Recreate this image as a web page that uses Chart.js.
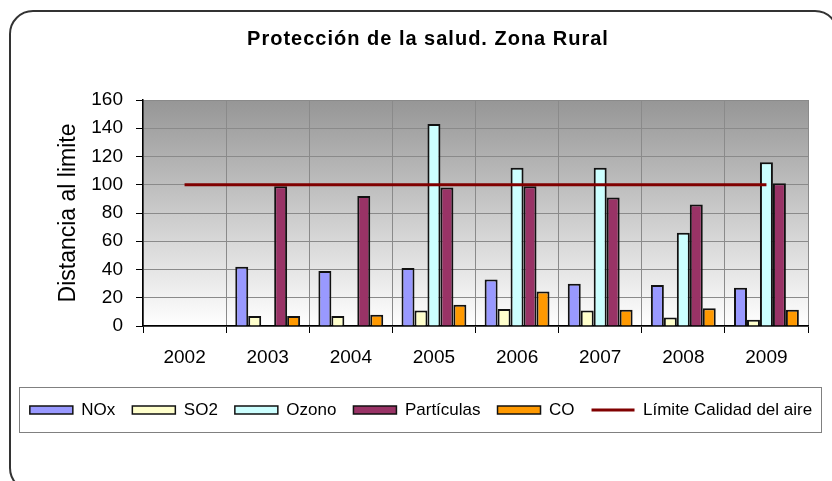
<!DOCTYPE html>
<html lang="es">

<head>
    <meta charset="utf-8">
    <title>Protección de la salud. Zona Rural</title>
    <script src="https://cdn.jsdelivr.net/npm/chart.js"></script>
    <style>
        html, body { margin: 0; padding: 0; background: #fff; overflow: hidden; }
        #marco {
            position: absolute; left: 9px; top: 10px; width: 826px; height: 478px;
            border: 2px solid #333; border-radius: 24px; pointer-events: none;
        }
        #contenedor { position: absolute; left: 0; top: 0; width: 832px; height: 481px; }
    </style>
</head>

<body>
    <div id="contenedor"><canvas id="graficoSalud"></canvas></div>
    <div id="marco"></div>

    <script>
        // Datos del gráfico
        const titulo = 'Protección de la salud. Zona Rural';
        const anios = ['2002', '2003', '2004', '2005', '2006', '2007', '2008', '2009'];
        const nox = [null, 42, 39, 41, 33, 30, 29, 27];
        const so2 = [null, 7, 7, 11, 12, 11, 6, 4.5];
        const ozono = [null, null, null, 143, 112, 112, 66, 116];
        const particulas = [null, 99, 92, 98, 99, 91, 86, 101];
        const co = [null, 7, 8, 15, 24.5, 11.5, 12.5, 11.5];
        const limite = [100, 100, 100, 100, 100, 100, 100, 100];

        Chart.defaults.font.family = '"Liberation Sans", Arial, sans-serif';
        Chart.defaults.color = '#000';

        const colorRejilla = '#8a8a8a';

        // Fondo degradado del área de trazado, título y recuadro de la leyenda
        const decoracion = {
            id: 'decoracion',
            afterLayout(chart) {
                // centrar la leyenda como en el original
                chart.legend.left += 5;
                chart.legend.right += 5;
            },
            beforeDraw(chart) {
                const { ctx, chartArea: a } = chart;
                const g = ctx.createLinearGradient(0, a.top, 0, a.bottom);
                g.addColorStop(0, '#969696');
                g.addColorStop(1, '#ffffff');
                ctx.save();
                ctx.fillStyle = g;
                ctx.fillRect(a.left, a.top, a.right - a.left, a.bottom - a.top);
                ctx.restore();
            },
            afterDraw(chart) {
                const ctx = chart.ctx;
                ctx.save();
                ctx.font = 'bold 20px "Liberation Sans", Arial, sans-serif';
                ctx.letterSpacing = '1px';
                ctx.fillStyle = '#000';
                ctx.textAlign = 'center';
                ctx.textBaseline = 'alphabetic';
                ctx.fillText(titulo, 428, 45);
                ctx.letterSpacing = '0px';
                ctx.strokeStyle = '#808080';
                ctx.lineWidth = 1;
                ctx.strokeRect(19.5, 387.5, 802, 45);
                ctx.restore();
            }
        };

        const datos = {
            labels: anios,
            datasets: [
                { label: 'Límite Calidad del aire', type: 'line', data: limite, borderColor: '#800000', backgroundColor: '#800000', borderWidth: 3, pointRadius: 0, order: 0 },
                { label: 'NOx', data: nox, backgroundColor: '#9999FF', order: 1 },
                { label: 'SO2', data: so2, backgroundColor: '#FFFFCC', order: 1 },
                { label: 'Ozono', data: ozono, backgroundColor: '#CCFFFF', order: 1 },
                { label: 'Partículas', data: particulas, backgroundColor: '#993366', order: 1 },
                { label: 'CO', data: co, backgroundColor: '#FF9900', order: 1 }
            ]
        };

        const config = {
            type: 'bar',
            data: datos,
            options: {
                responsive: true,
                maintainAspectRatio: false,
                animation: false,
                layout: { padding: { left: 0, right: 0, top: 100, bottom: 52.5 } },
                datasets: {
                    bar: { borderColor: '#111', borderWidth: 2, categoryPercentage: 0.78, barPercentage: 1 }
                },
                plugins: {
                    title: { display: false },
                    tooltip: { enabled: false },
                    legend: {
                        position: 'bottom',
                        labels: {
                            usePointStyle: true,
                            pointStyleWidth: 43,
                            boxHeight: 8,
                            padding: 17,
                            font: { size: 17 },
                            color: '#000',
                            generateLabels(chart) {
                                const items = Chart.defaults.plugins.legend.labels.generateLabels(chart);
                                items.forEach(it => {
                                    const ds = chart.data.datasets[it.datasetIndex];
                                    if (ds.type === 'line') {
                                        it.pointStyle = 'line';
                                        it.strokeStyle = ds.borderColor;
                                        it.lineWidth = 3;
                                    } else {
                                        it.pointStyle = 'rect';
                                        it.strokeStyle = '#111';
                                        it.lineWidth = 1.5;
                                    }
                                });
                                // la línea va al final de la leyenda
                                items.sort((a, b) => (a.pointStyle === 'line') - (b.pointStyle === 'line'));
                                return items;
                            }
                        }
                    }
                },
                scales: {
                    x: {
                        grid: { color: colorRejilla, tickColor: '#000', tickLength: 7, offset: true },
                        border: { color: '#000', width: 1.5 },
                        ticks: { font: { size: 19 }, color: '#000', padding: 13 },
                        afterFit(s) {
                            s.height = 58.5;
                            s.paddingRight = 24; // margen derecho del área de trazado
                        }
                    },
                    y: {
                        min: 0,
                        max: 160,
                        ticks: { stepSize: 20, autoSkip: false, font: { size: 19 }, color: '#000', padding: 13 },
                        grid: { color: colorRejilla, tickColor: '#000', tickLength: 7 },
                        border: { color: '#000', width: 1.5 },
                        title: {
                            display: true,
                            text: 'Distancia al limite',
                            font: { size: 23 },
                            color: '#000',
                            padding: { top: 55, bottom: 0 }
                        },
                        afterFit(s) { s.width = 143; }
                    }
                }
            },
            plugins: [decoracion]
        };

        const graficoSalud = new Chart(document.getElementById('graficoSalud'), config);
    </script>
</body>

</html>
